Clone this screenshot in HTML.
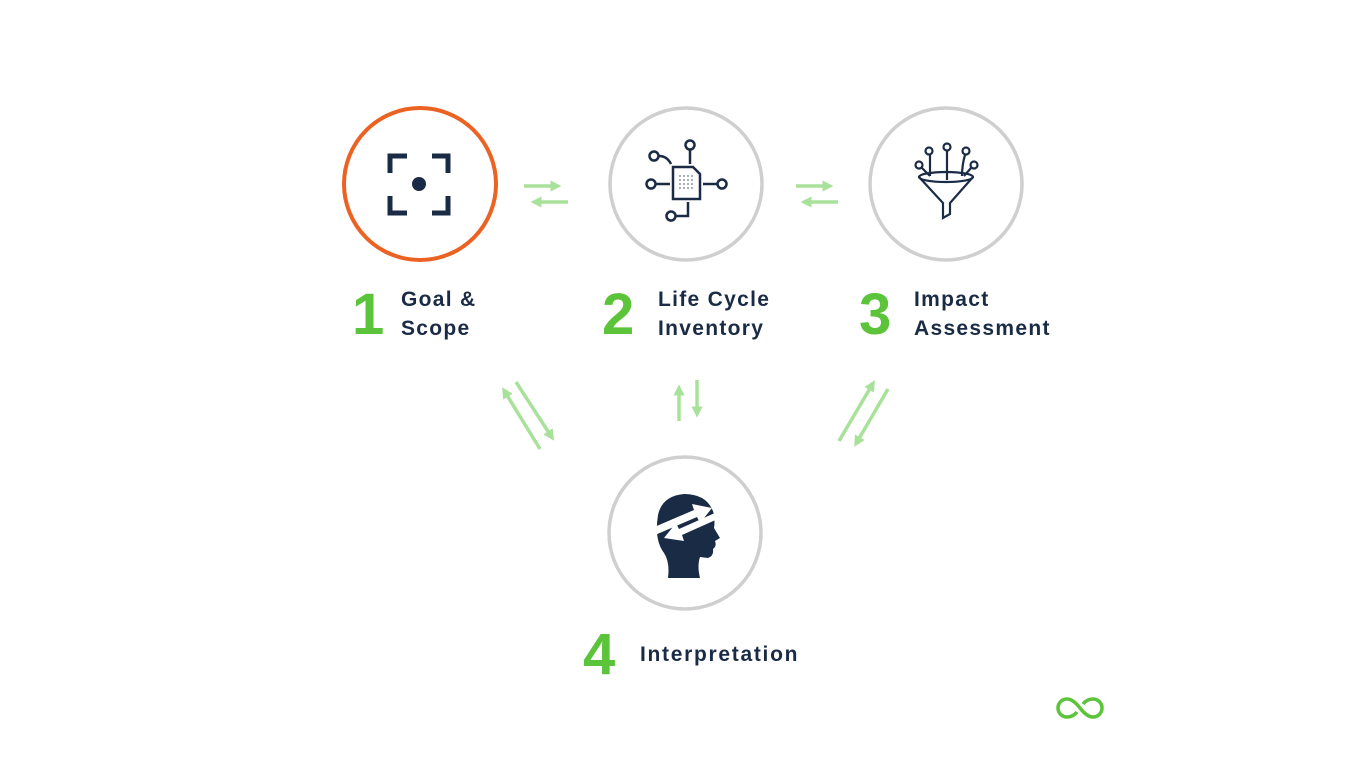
<!DOCTYPE html>
<html><head><meta charset="utf-8"><style>
html,body{margin:0;padding:0;background:#fff;}
svg{display:block}
.num{font-family:"Liberation Sans",sans-serif;font-weight:bold;fill:#5cc43a;font-size:58px}
.lbl{font-family:"Liberation Sans",sans-serif;font-weight:bold;fill:#1a2b45;font-size:21px;letter-spacing:1.3px}
</style></head><body>
<svg width="1366" height="768" viewBox="0 0 1366 768">
<defs>
<marker id="ah" viewBox="0 0 10 10" refX="5" refY="5" markerWidth="3.2" markerHeight="3.2" orient="auto"><path d="M0,0 L10,5 L0,10 z" fill="#a8e29a"/></marker>
</defs>
<circle cx="420" cy="184" r="76" fill="none" stroke="#ec6223" stroke-width="4"/>
<circle cx="686" cy="184" r="76" fill="none" stroke="#cfcfcf" stroke-width="3.5"/>
<circle cx="946" cy="184" r="76" fill="none" stroke="#cfcfcf" stroke-width="3.5"/>
<circle cx="685" cy="533" r="76" fill="none" stroke="#cfcfcf" stroke-width="3.5"/>
<g fill="none" stroke="#1a2b45" stroke-width="5">
<path d="M390,173 V156 H407"/><path d="M432,156 H448 V173"/>
<path d="M390,196 V213 H407"/><path d="M432,213 H448 V196"/>
</g>
<circle cx="419" cy="184" r="7" fill="#1a2b45"/>
<g fill="none" stroke="#1a2b45" stroke-width="2.5">
<path d="M673,167 H693 L700,174 V199 H673 Z"/>
<circle cx="654" cy="156" r="4.5"/><circle cx="690" cy="145" r="4.5"/>
<circle cx="651" cy="184" r="4.5"/><circle cx="722" cy="184" r="4.5"/>
<circle cx="671" cy="216" r="4.5"/>
<path d="M659,156 Q667,156 671,164"/><path d="M690,150 V164"/>
<path d="M656,184 H670"/><path d="M717,184 H703"/>
<path d="M676,216 H688 V202"/>
</g>
<g fill="#6a7a8a">
<circle cx="680" cy="176" r="0.9"/><circle cx="684" cy="176" r="0.9"/><circle cx="688" cy="176" r="0.9"/><circle cx="692" cy="176" r="0.9"/>
<circle cx="680" cy="180" r="0.9"/><circle cx="684" cy="180" r="0.9"/><circle cx="688" cy="180" r="0.9"/><circle cx="692" cy="180" r="0.9"/>
<circle cx="680" cy="184" r="0.9"/><circle cx="684" cy="184" r="0.9"/><circle cx="688" cy="184" r="0.9"/><circle cx="692" cy="184" r="0.9"/>
<circle cx="680" cy="188" r="0.9"/><circle cx="684" cy="188" r="0.9"/><circle cx="688" cy="188" r="0.9"/><circle cx="692" cy="188" r="0.9"/>
</g>
<g fill="none" stroke="#1a2b45" stroke-width="2.2">
<path d="M919,177 L943,203 V218 L950,214 V203 L973,177"/>
<ellipse cx="946" cy="177" rx="27" ry="5"/>
<circle cx="919" cy="165" r="3.5"/><circle cx="929" cy="151" r="3.5"/><circle cx="947" cy="147" r="3.5"/><circle cx="966" cy="151" r="3.5"/><circle cx="974" cy="165" r="3.5"/>
<path d="M922,168 L930,176"/><path d="M930,155 V176"/><path d="M947,151 V180"/><path d="M965,155 Q962,165 962,176"/><path d="M971,168 L964,176"/>
</g>
<!-- head -->
<path d="M658,515 Q662,496 684,494 Q708,494 714,514 Q715,522 714,528 L720,538 L715,541 Q717,546 713,549 Q714,556 708,558 L700,557 Q697,566 700,578 L668,578 Q670,562 664,553 Q654,540 658,515 Z" fill="#1a2b45"/>
<path d="M652,528 L694,510 L692,504 L712,508 L700,523 L697,517 L655,535 Z" fill="#fff"/>
<path d="M720,518 L682,535 L684,541 L664,538 L676,523 L679,529 L717,512 Z" fill="#fff"/>
<g stroke="#a8e29a" stroke-width="3.5" fill="none" marker-end="url(#ah)">
<line x1="524" y1="186" x2="556" y2="186"/>
<line x1="568" y1="202" x2="536" y2="202"/>
<line x1="796" y1="186" x2="828" y2="186"/>
<line x1="838" y1="202" x2="806" y2="202"/>
<line x1="679" y1="421" x2="679" y2="390"/>
<line x1="697" y1="380" x2="697" y2="412"/>
<line x1="540" y1="449" x2="505" y2="392"/>
<line x1="516" y1="382" x2="551" y2="436"/>
<line x1="839" y1="441" x2="872" y2="385"/>
<line x1="888" y1="389" x2="857" y2="442"/>
</g>
<text class="num" x="352" y="334">1</text>
<text class="lbl" x="401" y="306">Goal &amp;</text>
<text class="lbl" x="401" y="335">Scope</text>
<text class="num" x="602" y="334">2</text>
<text class="lbl" x="658" y="306">Life Cycle</text>
<text class="lbl" x="658" y="335">Inventory</text>
<text class="num" x="859" y="334">3</text>
<text class="lbl" x="914" y="306">Impact</text>
<text class="lbl" x="914" y="335">Assessment</text>
<text class="num" x="583" y="674">4</text>
<text class="lbl" x="640" y="661" style="letter-spacing:1.7px">Interpretation</text>
<g fill="none" stroke="#5cc43a" stroke-width="3.5">
<path d="M1080,708 Q1073,699 1067,699 A9,9 0 0 0 1067,717 Q1073,717 1077,712"/>
<path d="M1080,708 Q1087,717 1093,717 A9,9 0 0 0 1093,699 Q1087,699 1083,704"/>
</g>
</svg>
</body></html>
